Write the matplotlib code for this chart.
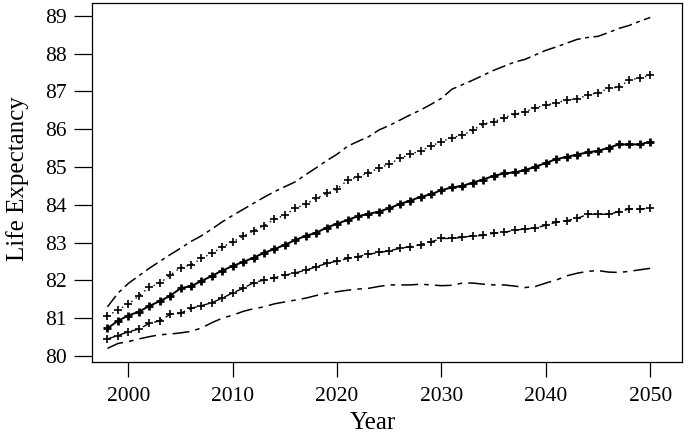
import numpy as np
import matplotlib.pyplot as plt

plt.rcParams['font.family'] = ['Liberation Serif', 'DejaVu Serif']

# Years of projection
years = list(range(1998, 2051))

# Life expectancy scenarios
high = [81.30, 81.66, 81.92, 82.12, 82.32, 82.50, 82.68, 82.85, 83.03, 83.18,
        83.36, 83.55, 83.72, 83.88, 84.04, 84.20, 84.35, 84.48, 84.61, 84.80,
        84.98, 85.17, 85.34, 85.55, 85.68, 85.80, 85.98, 86.10, 86.24, 86.38,
        86.51, 86.66, 86.82, 87.06, 87.18, 87.30, 87.43, 87.56, 87.67, 87.78,
        87.85, 87.97, 88.09, 88.18, 88.28, 88.38, 88.43, 88.46, 88.56, 88.67,
        88.75, 88.86, 88.96]

upper = [81.06, 81.22, 81.37, 81.59, 81.82, 81.92, 82.14, 82.34, 82.41, 82.58,
         82.72, 82.88, 83.02, 83.17, 83.31, 83.45, 83.62, 83.73, 83.91, 84.02,
         84.17, 84.30, 84.42, 84.65, 84.74, 84.85, 84.97, 85.08, 85.23, 85.34,
         85.43, 85.56, 85.67, 85.78, 85.84, 85.98, 86.14, 86.20, 86.31, 86.40,
         86.46, 86.57, 86.64, 86.70, 86.77, 86.81, 86.90, 86.97, 87.08, 87.12,
         87.30, 87.36, 87.43]

median = [80.73, 80.93, 81.07, 81.17, 81.32, 81.45, 81.59, 81.79, 81.85, 81.98,
          82.12, 82.26, 82.38, 82.49, 82.60, 82.73, 82.83, 82.94, 83.07, 83.18,
          83.26, 83.40, 83.50, 83.60, 83.70, 83.76, 83.82, 83.91, 84.02, 84.11,
          84.21, 84.28, 84.39, 84.46, 84.50, 84.59, 84.67, 84.77, 84.83, 84.86,
          84.92, 85.01, 85.11, 85.21, 85.27, 85.33, 85.39, 85.43, 85.51, 85.60,
          85.60, 85.60, 85.67]

lower = [80.45, 80.54, 80.64, 80.71, 80.86, 80.93, 81.10, 81.13, 81.26, 81.33,
         81.41, 81.53, 81.67, 81.79, 81.94, 82.01, 82.07, 82.14, 82.20, 82.27,
         82.36, 82.45, 82.51, 82.58, 82.63, 82.69, 82.74, 82.78, 82.85, 82.89,
         82.95, 83.02, 83.11, 83.11, 83.14, 83.18, 83.19, 83.25, 83.27, 83.33,
         83.36, 83.39, 83.46, 83.54, 83.58, 83.64, 83.75, 83.75, 83.75, 83.82,
         83.89, 83.89, 83.91]

low = [80.20, 80.33, 80.38, 80.45, 80.51, 80.56, 80.58, 80.61, 80.65, 80.74,
       80.88, 81.00, 81.08, 81.18, 81.25, 81.30, 81.38, 81.43, 81.48, 81.53,
       81.60, 81.66, 81.70, 81.74, 81.77, 81.79, 81.84, 81.88, 81.88, 81.88,
       81.90, 81.88, 81.86, 81.87, 81.93, 81.93, 81.90, 81.88, 81.88, 81.85,
       81.81, 81.84, 81.93, 82.01, 82.12, 82.19, 82.24, 82.26, 82.22, 82.21,
       82.24, 82.28, 82.32]

fig = plt.figure(figsize=(6.85, 4.41), dpi=100)
ax = fig.add_axes([0.134, 0.180, 0.861, 0.813])

ax.plot(years, high, color='black', lw=1.1, linestyle=(0, (9, 3, 2.5, 3)))
ax.plot(years, upper, color='black', lw=1.0, linestyle=(0, (1, 3)),
        marker='+', markersize=5.5, markeredgewidth=1.2)
ax.plot(years, median, color='black', lw=1.4, linestyle='-',
        marker='+', markersize=5.5, markeredgewidth=2.0)
ax.plot(years, lower, color='black', lw=1.0, linestyle=(0, (6, 3)),
        marker='+', markersize=5.5, markeredgewidth=1.2)
ax.plot(years, low, color='black', lw=1.1, linestyle=(0, (11, 4, 3, 4)))

ax.set_xlim(1996.5, 2053.0)
ax.set_ylim(79.85, 89.34)
ax.set_xticks(range(2000, 2051, 10))
ax.set_yticks(range(80, 90))

for s in ax.spines.values():
    s.set_linewidth(0.9)

ax.tick_params(axis='x', direction='out', length=11, width=0.9, pad=7,
               labelsize=15.5)
ax.tick_params(axis='y', direction='out', length=13, width=0.9, pad=5,
               labelsize=15.5)

ax.set_xlabel('Year', fontsize=18)
ax.set_ylabel('Life Expectancy', fontsize=18)
ax.xaxis.set_label_coords(0.477, -0.14)
ax.yaxis.set_label_coords(-0.107, 0.51)

fig.savefig('out.png', dpi=100)
